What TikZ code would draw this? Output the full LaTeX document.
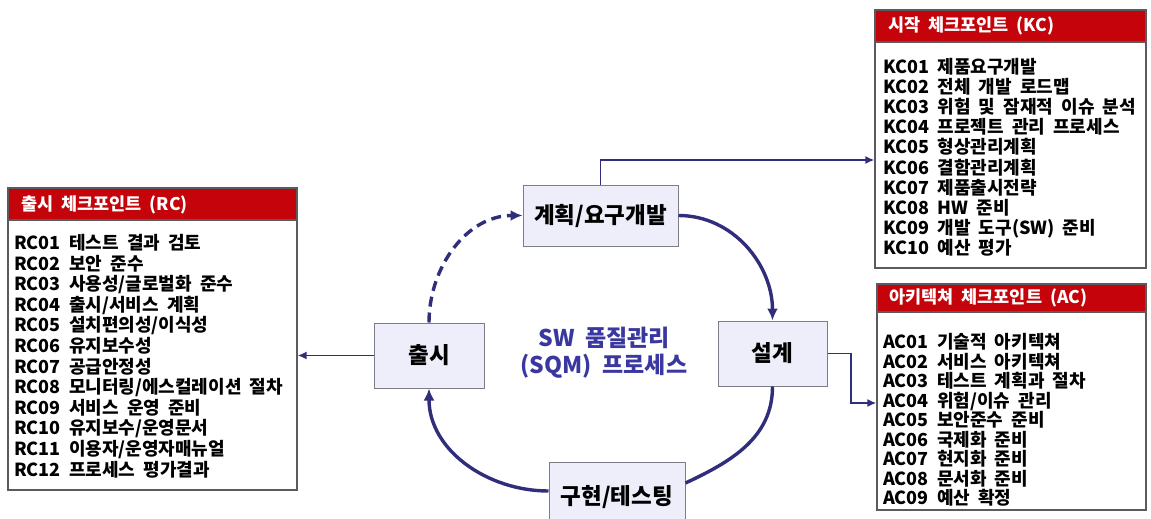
\documentclass[tikz,border=0pt]{standalone}
\usepackage{fontspec}
\setmainfont{Noto Sans CJK KR}[WordSpace=2]
\usetikzlibrary{arrows.meta}
\definecolor{navy}{RGB}{48,46,122}
\definecolor{sqmblue}{RGB}{58,56,160}
\definecolor{hdrred}{RGB}{196,4,10}
\definecolor{stagefill}{RGB}{238,238,250}
\definecolor{stageedge}{RGB}{125,125,135}
\definecolor{listedge}{RGB}{90,90,95}
\tikzset{
  stage/.style={draw=stageedge, fill=stagefill, line width=1pt, inner sep=0pt,
    font=\bfseries\fontsize{22.5}{26}\selectfont},
  listbox/.style={draw=listedge, fill=white, line width=1.2pt, inner sep=0pt},
  hdrbox/.style={draw=listedge, fill=hdrred, line width=1.2pt, inner sep=0pt},
  hdrtext/.style={anchor=base west, inner sep=0pt, text=white,
    font=\bfseries\fontsize{17.5}{20}\selectfont},
  item/.style={anchor=base west, inner sep=0pt,
    font=\bfseries\fontsize{18}{20}\selectfont},
  cyc/.style={draw=navy, line width=3.4pt, -{Latex[length=12pt,width=11pt]}},
  cycline/.style={draw=navy, line width=3.4pt},
  conn/.style={draw=navy, line width=1.9pt, -{Latex[length=9pt,width=8pt]}},
}
\begin{document}
\begin{tikzpicture}[x=1pt,y=-1pt]
\useasboundingbox[fill=white] (0,0) rectangle (1151,519);

% list boxes
\node[listbox, minimum width=289pt, minimum height=302pt] (rc) at (152.5,339) {};
\node[hdrbox, minimum width=289pt, minimum height=32pt, anchor=north west] (rch) at (rc.north west) {};
\node[hdrtext] (rct) at (21,210) {출시 체크포인트 (RC)};

\node[listbox, minimum width=271pt, minimum height=258pt] (kc) at (1010.5,139) {};
\node[hdrbox, minimum width=271pt, minimum height=32pt, anchor=north west] (kch) at (kc.north west) {};
\node[hdrtext] (kct) at (888,32) {시작 체크포인트 (KC)};

\node[listbox, minimum width=269pt, minimum height=226pt] (ac) at (1011.5,397) {};
\node[hdrbox, minimum width=269pt, minimum height=28pt, anchor=north west] (ach) at (ac.north west) {};
\node[hdrtext] (act) at (889,303) {아키텍쳐 체크포인트 (AC)};

\foreach \t [count=\i] in {{RC01 테스트 결과 검토},{RC02 보안 준수},{RC03 사용성/글로벌화 준수},
  {RC04 출시/서비스 계획},{RC05 설치편의성/이식성},{RC06 유지보수성},{RC07 공급안정성},
  {RC08 모니터링/에스컬레이션 절차},{RC09 서비스 운영 준비},{RC10 유지보수/운영문서},
  {RC11 이용자/운영자매뉴얼},{RC12 프로세스 평가결과}}
  \node[item] (rc\i) at (14,{249.5+20.6*(\i-1)}) {\t};

\foreach \t [count=\i] in {{KC01 제품요구개발},{KC02 전체 개발 로드맵},{KC03 위험 및 잠재적 이슈 분석},
  {KC04 프로젝트 관리 프로세스},{KC05 형상관리계획},{KC06 결함관리계획},{KC07 제품출시전략},
  {KC08 HW 준비},{KC09 개발 도구(SW) 준비},{KC10 예산 평가}}
  \node[item] (kc\i) at (883,{73.5+20.1*(\i-1)}) {\t};

\foreach \t [count=\i] in {{AC01 기술적 아키텍쳐},{AC02 서비스 아키텍쳐},{AC03 테스트 계획과 절차},
  {AC04 위험/이슈 관리},{AC05 보안준수 준비},{AC06 국제화 준비},{AC07 현지화 준비},
  {AC08 문서화 준비},{AC09 예산 확정}}
  \node[item] (ac\i) at (883,{348.5+19.5*(\i-1)}) {\t};

% stages
\node[stage, minimum width=155pt, minimum height=61pt] (plan) at (600.5,215.5) {계획/요구개발};
\node[stage, minimum width=109pt, minimum height=65pt] (design) at (772.5,353.5) {설계};
\node[stage, minimum width=136pt, minimum height=70pt] (impl) at (617,497) {구현/테스팅};
\node[stage, minimum width=110pt, minimum height=65pt] (release) at (429,355.5) {출시};

\node[align=center, inner sep=0pt, text=sqmblue, font=\bfseries\fontsize{23}{27}\selectfont]
  (sqm) at (604,353) {SW 품질관리\\(SQM) 프로세스};

% cycle
\draw[cyc] (plan.east) to[out=0,in=90] (design.north);
\draw[cycline] (design.south) to[out=-90,in=25] ([yshift=14pt]impl.east);
\draw[cyc] ([yshift=6pt]impl.west) to[out=180,in=-90] (release.south);
\draw[cyc, dash pattern=on 10pt off 6pt] (release.north) to[out=90,in=180] (plan.west);

% connectors to lists
\coordinate (kcy) at (0,160);
\draw[conn] (plan.north) |- (kc.west |- kcy);
\coordinate (acbend) at (851,403);
\draw[conn] (design.east) -| (acbend) -- (ac.west |- acbend);
\draw[conn] (release.west) -- (rc.east |- release.west);
\end{tikzpicture}
\end{document}
